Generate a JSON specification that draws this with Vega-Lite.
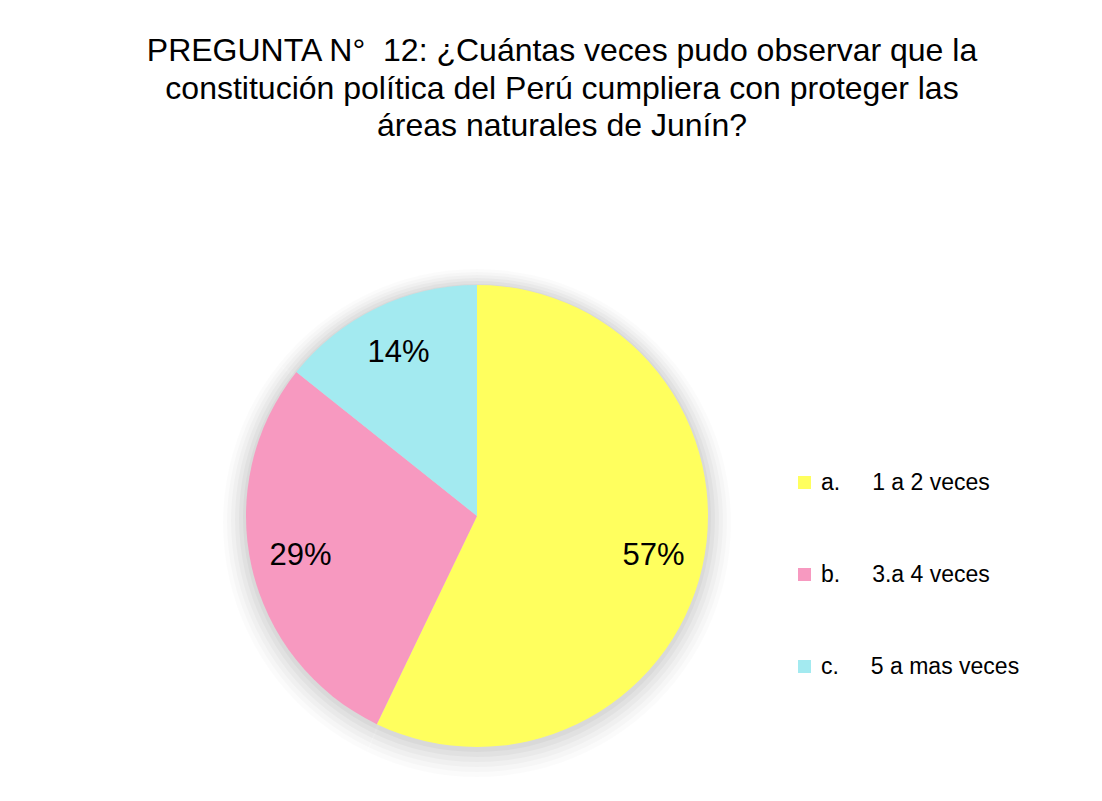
{
  "$schema": "https://vega.github.io/schema/vega-lite/v6.json",
  "autosize": {"type": "none"},
  "padding": {"left": 242, "top": 281, "right": 390, "bottom": 50},
  "width": 470,
  "height": 470,
  "background": "white",
  "config": {"view": {"stroke": null}, "font": "Liberation Sans"},
  "title": {
    "text": ["PREGUNTA N°\u00a0\u00a012: ¿Cuántas veces pudo observar que la", "constitución política del Perú cumpliera con proteger las", "áreas naturales de Junín?"],
    "font": "Liberation Sans",
    "fontSize": 32,
    "fontWeight": "normal",
    "color": "#000000",
    "anchor": "middle",
    "frame": "group",
    "dx": 85,
    "offset": 126,
    "lineHeight": 37.5
  },
  "data": {
    "values": [
      {"respuesta": "a.\u00a0\u00a0\u00a0\u00a0\u00a01 a 2 veces", "proporcion": 0.5714},
      {"respuesta": "b.\u00a0\u00a0\u00a0\u00a0\u00a03.a 4 veces", "proporcion": 0.2857},
      {"respuesta": "c.\u00a0\u00a0\u00a0\u00a0\u00a05 a mas veces", "proporcion": 0.1429}
    ]
  },
  "encoding": {
    "theta": {"field": "proporcion", "type": "quantitative", "stack": true},
    "order": {"field": "respuesta", "sort": "ascending"}
  },
  "layer": [
    {"mark": {"type": "arc", "outerRadius": 254, "fill": "#000000", "fillOpacity": 0.015, "yOffset": 7}},
    {"mark": {"type": "arc", "outerRadius": 250, "fill": "#000000", "fillOpacity": 0.02, "yOffset": 6}},
    {"mark": {"type": "arc", "outerRadius": 246, "fill": "#000000", "fillOpacity": 0.025, "yOffset": 5}},
    {"mark": {"type": "arc", "outerRadius": 242, "fill": "#000000", "fillOpacity": 0.028, "yOffset": 4}},
    {"mark": {"type": "arc", "outerRadius": 238, "fill": "#000000", "fillOpacity": 0.03, "yOffset": 3}},
    {"mark": {"type": "arc", "outerRadius": 234, "fill": "#000000", "fillOpacity": 0.03, "yOffset": 2}},
    {
      "mark": {"type": "arc", "outerRadius": 231},
      "encoding": {
        "color": {
          "field": "respuesta",
          "type": "nominal",
          "scale": {
            "domain": ["a.\u00a0\u00a0\u00a0\u00a0\u00a01 a 2 veces", "b.\u00a0\u00a0\u00a0\u00a0\u00a03.a 4 veces", "c.\u00a0\u00a0\u00a0\u00a0\u00a05 a mas veces"],
            "range": ["#ffff5e", "#f799c0", "#a3eaf0"]
          },
          "legend": {
            "title": null,
            "orient": "none",
            "legendX": 551,
            "legendY": 190,
            "symbolType": "square",
            "symbolSize": 169,
            "symbolStrokeWidth": 0,
            "labelFont": "Liberation Sans",
            "labelFontSize": 23,
            "labelColor": "#000000",
            "labelOffset": 5,
            "rowPadding": 68,
            "labelLimit": 400
          }
        }
      }
    },
    {
      "mark": {"type": "text", "radius": 181, "font": "Liberation Sans", "fontSize": 31, "color": "#000000"},
      "encoding": {
        "text": {"field": "proporcion", "type": "quantitative", "format": ".0%"}
      }
    }
  ]
}
